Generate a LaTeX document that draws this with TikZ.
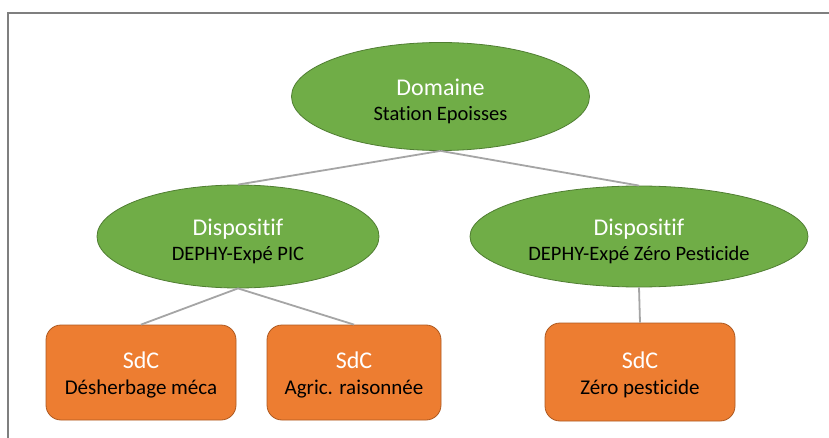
\documentclass[tikz,border=0pt]{standalone}
\usepackage{fontspec}
\setmainfont{Carlito}[Ligatures=NoCommon]
\usetikzlibrary{shapes.geometric}
\definecolor{gfill}{HTML}{70AD47}
\definecolor{gline}{HTML}{507E32}
\definecolor{ofill}{HTML}{ED7D31}
\definecolor{oline}{HTML}{AE5A21}
\definecolor{conn}{HTML}{A5A5A5}
\definecolor{frame}{HTML}{7F7F7F}
\tikzset{
  ell/.style={ellipse, draw=gline, fill=gfill, line width=0.8pt, inner sep=0pt, align=center,
    font=\fontsize{20.5}{25}\selectfont},
  sdc/.style={rectangle, rounded corners=15pt, draw=oline, fill=ofill, line width=0.8pt, inner sep=0pt,
    align=center, font=\fontsize{21}{26}\selectfont},
  link/.style={draw=conn, line width=1.8pt}
}
\newcommand{\ttlline}[2]{{\color{white}\fontsize{24}{25}\selectfont\rule{0pt}{#1}#2}}
\begin{document}
\begin{tikzpicture}[x=1pt,y=-1pt]
\useasboundingbox (0,0) rectangle (829,438);
\fill[white] (0,0) rectangle (829,438);
\draw[frame, line width=1.5pt] (8,438) -- (8,13) -- (829,13);
% nodes
\node[ell, minimum width=298pt, minimum height=108pt] (dom) at (440.5,96.5)
  {\ttlline{27pt}{Domaine}\\Station Epoisses};
\node[ell, minimum width=282pt, minimum height=103pt] (d1) at (238,236.5)
  {\ttlline{27pt}{Dispositif}\\DEPHY-Expé PIC};
\node[ell, minimum width=338pt, minimum height=101pt] (d2) at (639,236.5)
  {\ttlline{27pt}{Dispositif}\\DEPHY-Expé Zéro Pesticide};
\node[sdc, minimum width=190pt, minimum height=95pt] (s1) at (141,372.5)
  {\ttlline{22pt}{SdC}\\Désherbage méca};
\node[sdc, minimum width=174pt, minimum height=95pt] (s2) at (354,372.5)
  {\ttlline{22pt}{SdC}\\Agric. raisonnée};
\node[sdc, minimum width=190pt, minimum height=98pt] (s3) at (640,372)
  {\ttlline{22pt}{SdC}\\Zéro pesticide};
% connectors
\draw[link] (dom.south) -- (d1.north);
\draw[link] (dom.south) -- (d2.north);
\draw[link] (d1.south) -- (s1.north);
\draw[link] (d1.south) -- (s2.north);
\draw[link] (d2.south) -- (s3.north);
\end{tikzpicture}
\end{document}
